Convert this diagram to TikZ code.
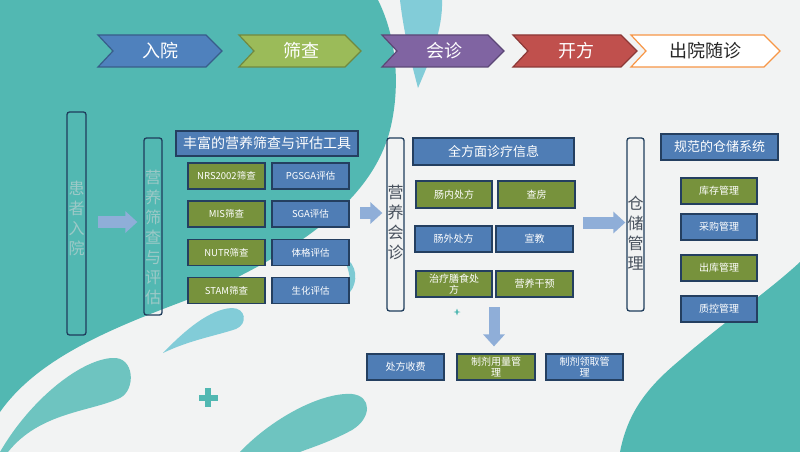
\documentclass[tikz,border=0pt]{standalone}
\usepackage{fontspec}
\setmainfont{Noto Sans CJK SC}
\usetikzlibrary{arrows.meta}
\definecolor{teal1}{HTML}{52B8B2}
\definecolor{teal2}{HTML}{6EC4C0}
\definecolor{lblue}{HTML}{82CCD8}
\definecolor{bgc}{HTML}{F2F3F3}
\definecolor{bgreen}{HTML}{77923C}
\definecolor{bblue}{HTML}{4F7DB5}
\definecolor{bline}{HTML}{243F60}
\definecolor{arrc}{HTML}{8FAED8}
\definecolor{vline}{HTML}{1F3D5C}
\definecolor{vlight}{HTML}{9CC9C7}
\definecolor{vdark}{HTML}{47505C}
\definecolor{chA}{HTML}{4F81BD}\definecolor{chAl}{HTML}{385D8A}
\definecolor{chB}{HTML}{9BBB59}\definecolor{chBl}{HTML}{71893F}
\definecolor{chC}{HTML}{8064A2}\definecolor{chCl}{HTML}{5C4776}
\definecolor{chD}{HTML}{C0504D}\definecolor{chDl}{HTML}{8C3836}
\definecolor{chE}{HTML}{F79646}
\tikzset{
  chevbox/.style={line width=1.2pt, line join=miter},
  chevtext/.style={font=\fontsize{18}{20}\selectfont, text=white, inner sep=0},
  gbox/.style={fill=bgreen, draw=bline, line width=1.2pt, text=white, inner sep=0, minimum width=77pt, minimum height=26pt, align=center},
  bbox/.style={fill=bblue, draw=bline, line width=1.2pt, text=white, inner sep=0, minimum width=77pt, minimum height=26pt, align=center},
  smallf/.style={font=\fontsize{9.5}{11}\selectfont},
  midf/.style={font=\fontsize{10}{11}\selectfont},
  titlebox/.style={fill=bblue, draw=bline, line width=1.2pt, text=white, inner sep=0, align=center},
  vbox/.style={draw=vline, line width=1.3pt, rounded corners=2.5pt, inner sep=0},
  vtext/.style={align=center, font=\fontsize{16}{20}\selectfont, inner sep=0},
  bigarrow/.style={draw=arrc, line width=12pt, -{Triangle[length=12pt,width=21pt]}},
}
\begin{document}
\begin{tikzpicture}[x=1pt,y=-1pt]
\useasboundingbox (0,0) rectangle (800,452);
% background
\fill[bgc] (0,0) rectangle (800,452);
\fill[teal1] (0,0) -- (378,0) .. controls (398,40) and (400,90) .. (390,130)
  .. controls (372,200) and (300,250) .. (200,295)
  .. controls (120,325) and (40,355) .. (0,412) -- cycle;
\fill[lblue] (400,0) .. controls (404,35) and (412,65) .. (418,88)
  .. controls (430,60) and (443,30) .. (442,0) -- cycle;
\fill[teal1] (800,262) .. controls (770,290) and (720,325) .. (680,360)
  .. controls (650,385) and (628,410) .. (620,452) -- (800,452) -- cycle;
\fill[teal2] (0,452) .. controls (30,400) and (80,360) .. (112,358)
  .. controls (135,356) and (136,390) .. (120,398)
  .. controls (90,412) and (40,412) .. (8,452) -- cycle;
\fill[teal2] (240,452) .. controls (270,420) and (320,392) .. (352,394)
  .. controls (372,396) and (372,418) .. (352,430)
  .. controls (330,442) and (310,448) .. (300,452) -- cycle;
\fill[lblue] (163,353) .. controls (185,330) and (210,309) .. (232,308)
  .. controls (246,308) and (248,324) .. (236,329)
  .. controls (215,336) and (190,340) .. (163,353) -- cycle;
\fill[lblue!80!teal2] (343,257) .. controls (358,263) and (358,283) .. (350,292)
  .. controls (351,280) and (349,268) .. (343,257) -- cycle;
\fill[teal1] (205,388) rectangle (211,407);
\fill[teal1] (199,394.5) rectangle (218,400.5);
\fill[teal1] (457,308.5) -- (458,311.3) -- (460.5,312) -- (458,312.7) -- (457,315.5)
  -- (456,312.7) -- (453.5,312) -- (456,311.3) -- cycle;

% chevrons
\filldraw[chevbox, fill=chA, draw=chAl] (98,35) -- (206,35) -- (222,51) -- (206,67) -- (98,67) -- (113,51) -- cycle;
\filldraw[chevbox, fill=chB, draw=chBl] (239,35) -- (345,35) -- (361,51) -- (345,67) -- (239,67) -- (254,51) -- cycle;
\filldraw[chevbox, fill=chC, draw=chCl] (382,35) -- (488,35) -- (504,51) -- (488,67) -- (382,67) -- (397,51) -- cycle;
\filldraw[chevbox, fill=chD, draw=chDl] (513,35) -- (621,35) -- (637,51) -- (621,67) -- (513,67) -- (528,51) -- cycle;
\filldraw[chevbox, fill=white, draw=chE] (631,35) -- (764,35) -- (780,51) -- (764,67) -- (631,67) -- (646,51) -- cycle;
\node[chevtext] (c1) at (160,51) {入院};
\node[chevtext] (c2) at (301,51) {筛查};
\node[chevtext] (c3) at (444,51) {会诊};
\node[chevtext] (c4) at (576,51) {开方};
\node[chevtext, text=black!85] (c5) at (705,51) {出院随诊};

% left column
\node[vbox, minimum width=19pt, minimum height=223pt] (v1) at (76.5,223.5) {};
\node[vtext, text=vlight] (v1t) at (76.5,218) {患\\者\\入\\院};
\node[vbox, minimum width=18pt, minimum height=177pt] (v2) at (153,226.5) {};
\node[vtext, text=vlight] (v2t) at (153,237) {营\\养\\筛\\查\\与\\评\\估};

\node[titlebox, minimum width=182pt, minimum height=25pt, font=\fontsize{14}{16}\selectfont] (t1) at (267,143.5) {丰富的营养筛查与评估工具};
\node[gbox, smallf] (g11) at (226.5,176) {NRS2002筛查};
\node[bbox, smallf] (g12) at (310.5,176) {PGSGA评估};
\node[gbox, smallf] (g21) at (226.5,214) {MIS筛查};
\node[bbox, smallf] (g22) at (310.5,214) {SGA评估};
\node[gbox, smallf] (g31) at (226.5,252.5) {NUTR筛查};
\node[bbox, smallf] (g32) at (310.5,252.5) {体格评估};
\node[gbox, smallf] (g41) at (226.5,290.5) {STAM筛查};
\node[bbox, smallf] (g42) at (310.5,290.5) {生化评估};

% middle column
\node[vbox, minimum width=17pt, minimum height=173pt] (v3) at (395.5,224.5) {};
\node[vtext, text=vdark] (v3t) at (395.5,222.5) {营\\养\\会\\诊};
\node[titlebox, minimum width=161pt, minimum height=27pt, font=\fontsize{13}{15}\selectfont] (t2) at (493.5,151.5) {全方面诊疗信息};
\node[gbox, midf, minimum width=76pt, minimum height=27pt] (m11) at (454,194.5) {肠内处方};
\node[gbox, midf, minimum height=27pt] (m12) at (536.5,194.5) {查房};
\node[bbox, midf] (m21) at (453.5,239) {肠外处方};
\node[bbox, midf] (m22) at (534.5,239) {宣教};
\node[gbox, midf, minimum width=76pt] (m31) at (454,284) {治疗膳食处\\方};
\node[gbox, midf] (m32) at (534.5,284) {营养干预};
\node[bbox, midf] (b1) at (405.5,367) {处方收费};
\node[gbox, midf, minimum width=78pt] (b2) at (496,367) {制剂用量管\\理};
\node[bbox, midf] (b3) at (584.5,367) {制剂领取管\\理};

% right column
\node[vbox, minimum width=17pt, minimum height=173pt] (v4) at (635.5,224.5) {};
\node[vtext, text=vdark] (v4t) at (635.5,233) {仓\\储\\管\\理};
\node[titlebox, minimum width=117pt, minimum height=26pt, font=\fontsize{13}{15}\selectfont] (t3) at (719.5,147) {规范的仓储系统};
\node[gbox, midf, minimum width=76pt] (r1) at (719,191) {库存管理};
\node[bbox, midf, minimum width=76pt] (r2) at (719,227) {采购管理};
\node[gbox, midf, minimum width=76pt] (r3) at (719,268) {出库管理};
\node[bbox, midf, minimum width=76pt] (r4) at (719,309) {质控管理};

% arrows
\coordinate (a1s) at (98,222);
\draw[bigarrow, shorten >=6pt] (a1s) -- (a1s -| v2.west);
\coordinate (a2s) at (360,213);
\draw[bigarrow, shorten >=4pt] (a2s) -- (a2s -| v3.west);
\coordinate (a3s) at (583,222.5);
\draw[bigarrow, shorten >=1pt] (a3s) -- (a3s -| v4.west);
\coordinate (a4s) at (494,307);
\draw[bigarrow, line width=11pt, shorten >=7pt] (a4s) -- (a4s |- b2.north);
\end{tikzpicture}
\end{document}
